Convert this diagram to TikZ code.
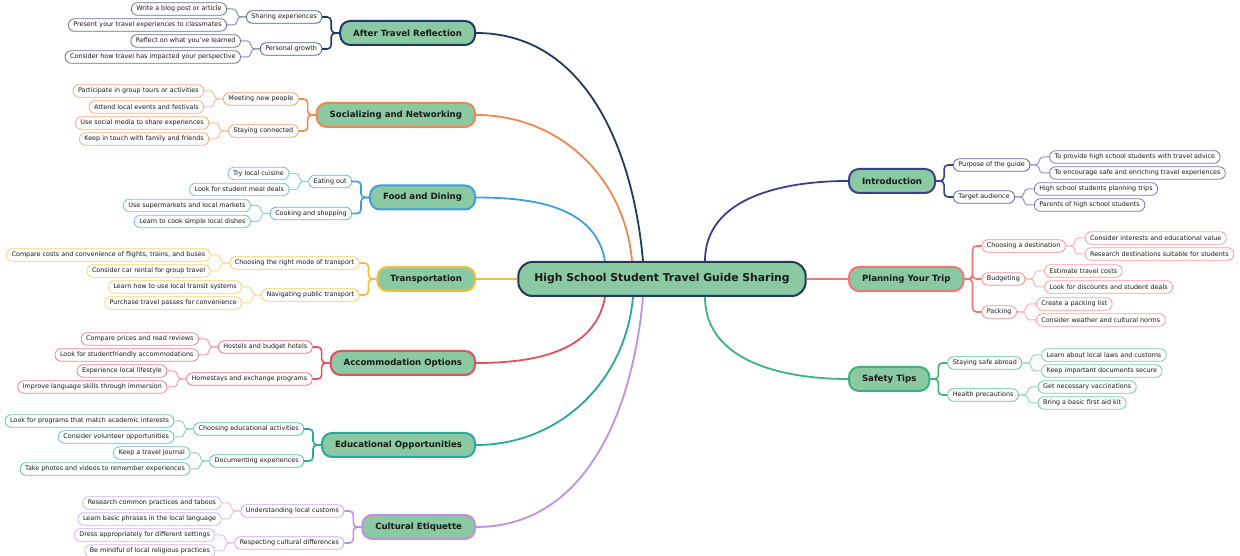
\documentclass[tikz,border=0pt]{standalone}
\usepackage{fontspec}
\setmainfont{DejaVu Sans}
\usepackage{tikz}
\usetikzlibrary{
  positioning,
  calc
}

% colours of the map
\definecolor{rootfill}{HTML}{8AC9A1}
\definecolor{rootline}{HTML}{203A5C}
\definecolor{reflectc}{HTML}{1F3A5F}
\definecolor{socialc}{HTML}{F0884E}
\definecolor{foodc}{HTML}{3D9FE0}
\definecolor{transportc}{HTML}{F2BE3C}
\definecolor{accomc}{HTML}{E2505F}
\definecolor{educ}{HTML}{2AA79C}
\definecolor{culturec}{HTML}{C28FE2}
\definecolor{introc}{HTML}{3B3F8E}
\definecolor{planc}{HTML}{F47373}
\definecolor{safetyc}{HTML}{3DB37A}

% sub topic and leaf, left side
\newcommand{\subleft}[4]{%
  \node[sub, left=17pt of #2.west, yshift=#3] (#1) {#4};
  \draw[subline] (#2.west) -- ++(-8pt,0) |- (#1.east);}
\newcommand{\leafleft}[4]{%
  \node[leaf, left=19pt of #2.west, yshift=#3] (#1) {#4};
  \draw[leafline] (#2.west) -- ++(-9pt,0) |- (#1.east);}
% sub topic and leaf, right side
\newcommand{\subright}[4]{%
  \node[sub, right=17pt of #2.east, yshift=#3] (#1) {#4};
  \draw[subline] (#2.east) -- ++(8pt,0) |- (#1.west);}
\newcommand{\leafright}[4]{%
  \node[leaf, right=19pt of #2.east, yshift=#3] (#1) {#4};
  \draw[leafline] (#2.east) -- ++(9pt,0) |- (#1.west);}

\begin{document}
\begin{tikzpicture}[
        x=1pt, y=1pt,
        every node/.style={text=black!90},
        rootbox/.style={draw=rootline, fill=rootfill, line width=2pt, rounded corners=14pt,
            minimum height=34pt, inner xsep=16pt, font=\fontsize{10.8}{13}\selectfont\bfseries},
        topic/.style={draw=#1, fill=rootfill, line width=2pt, rounded corners=10pt,
            minimum height=24pt, inner xsep=13pt, font=\fontsize{8.6}{10}\selectfont\bfseries},
        sub/.style={draw=bc!80, fill=white, line width=0.8pt, rounded corners=6pt,
            minimum height=12.5pt, inner xsep=5pt, inner ysep=1.5pt, font=\fontsize{6.4}{7}\selectfont},
        leaf/.style={sub, draw=bc!70},
        trunk/.style={draw=#1, line width=1.8pt},
        subline/.style={draw=bc, line width=1.6pt, rounded corners=4pt},
        leafline/.style={draw=bc!55, line width=1pt, rounded corners=4pt},
        branchcol/.code={\colorlet{bc}{#1}}
    ]
        \useasboundingbox (0,0) rectangle (1240,556);

        % centre
        \node[rootbox] (root) at (662,277) {High School Student Travel Guide Sharing};

        % main topics, left
        \node[topic=reflectc, anchor=east] (reflect) at (476,523) {After Travel Reflection};
        \node[topic=socialc, anchor=east] (social) at (476,441) {Socializing and Networking};
        \node[topic=foodc, anchor=east] (food) at (476,358.5) {Food and Dining};
        \node[topic=transportc, anchor=east] (transport) at (476,277) {Transportation};
        \node[topic=accomc, anchor=east] (accom) at (476,193) {Accommodation Options};
        \node[topic=educ, anchor=east] (edu) at (476,111) {Educational Opportunities};
        \node[topic=culturec, anchor=east] (culture) at (476,29) {Cultural Etiquette};

        % main topics, right
        \node[topic=introc, anchor=west] (intro) at (848,375) {Introduction};
        \node[topic=planc, anchor=west] (plan) at (848,277) {Planning Your Trip};
        \node[topic=safetyc, anchor=west] (safety) at (848,177) {Safety Tips};

        % trunks
        \draw[trunk=reflectc] (reflect.east) to[out=0,in=95] ($(root.north)+(-19,0)$);
        \draw[trunk=socialc] (social.east) to[out=0,in=95] ($(root.north)+(-30,0)$);
        \draw[trunk=foodc] (food.east) to[out=0,in=100] ($(root.north)+(-57,0)$);
        \draw[trunk=transportc] (transport.east) -- (root.west);
        \draw[trunk=accomc] (accom.east) to[out=0,in=-100] ($(root.south)+(-57,0)$);
        \draw[trunk=educ] (edu.east) to[out=0,in=-95] ($(root.south)+(-29,0)$);
        \draw[trunk=culturec] (culture.east) to[out=0,in=-95] ($(root.south)+(-19,0)$);
        \draw[trunk=introc] ($(root.north)+(43,0)$) to[out=90,in=180] (intro.west);
        \draw[trunk=planc] (root.east) -- (plan.west);
        \draw[trunk=safetyc] ($(root.south)+(43,0)$) to[out=-90,in=180] (safety.west);

        % After Travel Reflection
        \begin{scope}[branchcol=reflectc]
            \subleft{reflectA}{reflect}{16pt}{Sharing experiences}
            \subleft{reflectB}{reflect}{-16pt}{Personal growth}
            \leafleft{reflectA1}{reflectA}{8pt}{Write a blog post or article}
            \leafleft{reflectA2}{reflectA}{-8pt}{Present your travel experiences to classmates}
            \leafleft{reflectB1}{reflectB}{8pt}{Reflect on what you've learned}
            \leafleft{reflectB2}{reflectB}{-8pt}{Consider how travel has impacted your perspective}
        \end{scope}

        % Socializing and Networking
        \begin{scope}[branchcol=socialc]
            \subleft{socialA}{social}{16pt}{Meeting new people}
            \subleft{socialB}{social}{-16pt}{Staying connected}
            \leafleft{socialA1}{socialA}{8pt}{Participate in group tours or activities}
            \leafleft{socialA2}{socialA}{-8pt}{Attend local events and festivals}
            \leafleft{socialB1}{socialB}{8pt}{Use social media to share experiences}
            \leafleft{socialB2}{socialB}{-8pt}{Keep in touch with family and friends}
        \end{scope}

        % Food and Dining
        \begin{scope}[branchcol=foodc]
            \subleft{foodA}{food}{16pt}{Eating out}
            \subleft{foodB}{food}{-16pt}{Cooking and shopping}
            \leafleft{foodA1}{foodA}{8pt}{Try local cuisine}
            \leafleft{foodA2}{foodA}{-8pt}{Look for student meal deals}
            \leafleft{foodB1}{foodB}{8pt}{Use supermarkets and local markets}
            \leafleft{foodB2}{foodB}{-8pt}{Learn to cook simple local dishes}
        \end{scope}

        % Transportation
        \begin{scope}[branchcol=transportc]
            \subleft{transportA}{transport}{16pt}{Choosing the right mode of transport}
            \subleft{transportB}{transport}{-16pt}{Navigating public transport}
            \leafleft{transportA1}{transportA}{8pt}{Compare costs and convenience of flights, trains, and buses}
            \leafleft{transportA2}{transportA}{-8pt}{Consider car rental for group travel}
            \leafleft{transportB1}{transportB}{8pt}{Learn how to use local transit systems}
            \leafleft{transportB2}{transportB}{-8pt}{Purchase travel passes for convenience}
        \end{scope}

        % Accommodation Options
        \begin{scope}[branchcol=accomc]
            \subleft{accomA}{accom}{16pt}{Hostels and budget hotels}
            \subleft{accomB}{accom}{-16pt}{Homestays and exchange programs}
            \leafleft{accomA1}{accomA}{8pt}{Compare prices and read reviews}
            \leafleft{accomA2}{accomA}{-8pt}{Look for studentfriendly accommodations}
            \leafleft{accomB1}{accomB}{8pt}{Experience local lifestyle}
            \leafleft{accomB2}{accomB}{-8pt}{Improve language skills through immersion}
        \end{scope}

        % Educational Opportunities
        \begin{scope}[branchcol=educ]
            \subleft{eduA}{edu}{16pt}{Choosing educational activities}
            \subleft{eduB}{edu}{-16pt}{Documenting experiences}
            \leafleft{eduA1}{eduA}{8pt}{Look for programs that match academic interests}
            \leafleft{eduA2}{eduA}{-8pt}{Consider volunteer opportunities}
            \leafleft{eduB1}{eduB}{8pt}{Keep a travel journal}
            \leafleft{eduB2}{eduB}{-8pt}{Take photos and videos to remember experiences}
        \end{scope}

        % Cultural Etiquette
        \begin{scope}[branchcol=culturec]
            \subleft{cultureA}{culture}{16pt}{Understanding local customs}
            \subleft{cultureB}{culture}{-16pt}{Respecting cultural differences}
            \leafleft{cultureA1}{cultureA}{8pt}{Research common practices and taboos}
            \leafleft{cultureA2}{cultureA}{-8pt}{Learn basic phrases in the local language}
            \leafleft{cultureB1}{cultureB}{8pt}{Dress appropriately for different settings}
            \leafleft{cultureB2}{cultureB}{-8pt}{Be mindful of local religious practices}
        \end{scope}

        % Introduction
        \begin{scope}[branchcol=introc]
            \subright{introA}{intro}{16pt}{Purpose of the guide}
            \subright{introB}{intro}{-16pt}{Target audience}
            \leafright{introA1}{introA}{8pt}{To provide high school students with travel advice}
            \leafright{introA2}{introA}{-8pt}{To encourage safe and enriching travel experiences}
            \leafright{introB1}{introB}{8pt}{High school students planning trips}
            \leafright{introB2}{introB}{-8pt}{Parents of high school students}
        \end{scope}

        % Planning Your Trip
        \begin{scope}[branchcol=planc]
            \subright{planA}{plan}{33pt}{Choosing a destination}
            \subright{planB}{plan}{0pt}{Budgeting}
            \subright{planC}{plan}{-33pt}{Packing}
            \leafright{planA1}{planA}{8pt}{Consider interests and educational value}
            \leafright{planA2}{planA}{-8pt}{Research destinations suitable for students}
            \leafright{planB1}{planB}{8pt}{Estimate travel costs}
            \leafright{planB2}{planB}{-8pt}{Look for discounts and student deals}
            \leafright{planC1}{planC}{8pt}{Create a packing list}
            \leafright{planC2}{planC}{-8pt}{Consider weather and cultural norms}
        \end{scope}

        % Safety Tips
        \begin{scope}[branchcol=safetyc]
            \subright{safetyA}{safety}{16pt}{Staying safe abroad}
            \subright{safetyB}{safety}{-16pt}{Health precautions}
            \leafright{safetyA1}{safetyA}{8pt}{Learn about local laws and customs}
            \leafright{safetyA2}{safetyA}{-8pt}{Keep important documents secure}
            \leafright{safetyB1}{safetyB}{8pt}{Get necessary vaccinations}
            \leafright{safetyB2}{safetyB}{-8pt}{Bring a basic first aid kit}
        \end{scope}
    \end{tikzpicture}
\end{document}
